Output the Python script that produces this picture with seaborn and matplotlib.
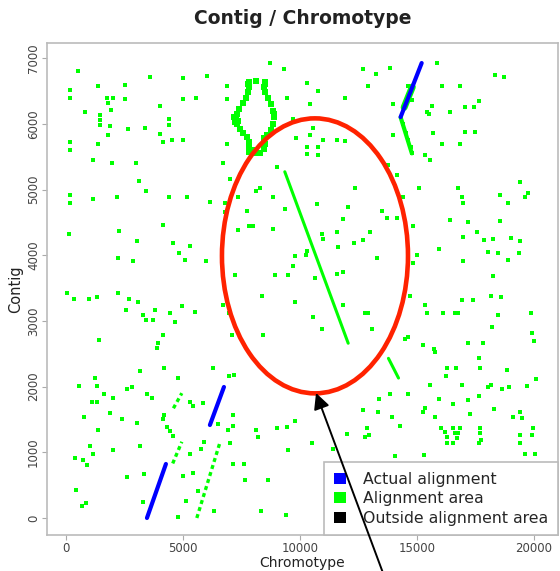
import matplotlib
matplotlib.use("Agg")
import matplotlib.pyplot as plt
from matplotlib.patches import Ellipse, Patch
import pandas as pd
import seaborn as sns

# scattered alignment-area hits: chromotype position / contig position
area_x = [
    500, 170, 170, 1350, 2520, 2520, 1740, 2000, 1810, 1920, 1450, 1450, 1450, 810, 170, 170,
    1350, 1170, 1950, 1880, 1810, 2670, 2990, 3140, 3420, 3590, 4990, 6010, 4990, 5560, 4020,
    4420, 4420, 4020, 4130, 4520, 4990, 3380, 170, 170, 1140, 2170, 4420, 5160, 6160, 6800,
    6870, 6870, 6870, 6730, 7010, 7370, 6800, 7720, 7370, 7800, 8010, 8860, 8120, 8270, 8860,
    9010, 140, 2280, 3050, 4590, 5300, 2240, 2850, 4850, 5090, 5990, 7230, 8940, 8720, 4130,
    9320, 10290, 10790, 9430, 10430, 11930, 12680, 13250, 13850, 12920, 13960, 15840, 16060,
    16840, 18340, 18720, 17630, 17450, 17060, 16390, 15630, 15420, 15530, 15670, 17060, 17480,
    16060, 16840, 15350, 15560, 9720, 10540, 9830, 10430, 11000, 11570, 11930, 10290, 10790,
    10290, 10790, 13960, 13780, 14130, 12350, 15100, 14390, 16770, 16910, 16980, 19410, 18550,
    19760, 19620, 18910, 10710, 9360, 12070, 13490, 13710, 14130, 11850, 14850, 16410, 17200,
    18550, 16960, 17550, 17880, 18240, 19020, 19410, 10930, 11000, 11570, 12990, 12310, 12710,
    11640, 9790, 9690, 9500, 10640, 11570, 11850, 13280, 14990, 15920, 16960, 18050, 18480,
    18880, 19380, 18240, 14850, 14390, 14530, 14630, 14730, 14780, 14780, 14630, 14500,
    30, 340, 1000, 1310, 2240, 2710, 3090, 2570, 3280, 3410, 3730, 3810, 4450, 4660, 4950,
    5520, 1430, 4130, 3950, 3880, 3160, 4200, 6270, 560, 1240, 1340, 2590, 2810, 4800, 1630,
    2020, 1100, 1310, 3450, 3660, 1880, 780, 2380, 3020, 1380, 5300, 5440, 5840, 3160, 2020,
    1030, 1140, 390, 740, 910, 2590, 3340, 430, 670, 860, 3280, 4770, 5130, 5020, 5420, 5630,
    5300, 5770, 5900, 6330, 7150, 7620, 7650, 7150, 7150, 6480, 8120, 8220, 8320, 8650, 9010,
    8440, 7110, 8370, 6730, 6980, 4300, 4450, 4590, 4160, 4200, 6940, 7010, 6980, 7180,
    9790, 10570, 10930, 11850, 12780, 12920, 13070, 14630, 14490, 14700, 15350, 15420, 16100,
    16630, 16770, 16910, 17380, 18150, 18590, 18450, 19860, 18200, 19910, 20010, 17200, 17810,
    15250, 15730, 15770, 17630, 16270, 16670, 17700, 18860, 16240, 16910, 18150, 18050, 18620,
    18950, 19690, 20090, 15560, 17630, 15920, 17200, 14630, 13850, 13390, 15350, 15270, 17270,
    15770, 16560, 19120, 19410, 19480, 18270, 13920, 14280, 13320, 12710, 12880, 12970, 12780,
    9790, 9430, 10500, 9500, 12000, 11430, 9390, 14060, 15300, 16020, 16200, 16270, 16270,
    16560, 16630, 16700, 16560, 16840, 16770, 17700, 17700, 17740, 17630, 19410, 19410, 19950,
    19910, 19620, 20050, 10260, 10300,
]
area_y = [
    6810, 6520, 6390, 6570, 6590, 6370, 6400, 6400, 6310, 6210, 6130, 6060, 5980, 6180, 5730, 5600,
    5690, 5450, 5400, 5960, 5830, 5920, 5410, 5130, 4970, 6720, 6700, 6730, 6370, 6390, 6270,
    6070, 5980, 5850, 5730, 5760, 5760, 5940, 4920, 4800, 4850, 4890, 4880, 4890, 4810, 4800,
    6570, 6380, 5690, 5410, 5160, 4890, 4660, 4680, 4390, 4450, 4450, 4400, 4980, 5020, 4890,
    5350, 4330, 4370, 4220, 4180, 4140, 3950, 3910, 4030, 3920, 3910, 3700, 3700, 6920, 4460,
    6830, 6620, 6500, 6400, 6300, 6390, 6840, 6760, 6850, 6570, 6300, 6920, 6570,
    6570, 6740, 6720, 6340, 6260, 6260, 6180, 6270, 6180, 6150, 5860, 5870, 5870,
    5690, 5690, 5530, 5450, 6080, 5940, 5780, 5830, 5760, 5750, 5740, 5650, 5650,
    5540, 5530, 5830, 5370, 5220, 5030, 5020, 4890, 5020, 4890, 4800, 5120, 4920,
    4940, 4890, 4800, 4780, 4700, 4740, 4670, 4560, 4560, 4550, 4450, 4530, 4500,
    4520, 4270, 4360, 4230, 4240, 4260, 4220, 4320, 4240, 4360, 4360, 4180, 4230,
    4120, 3990, 3830, 3700, 3660, 3710, 3750, 3950, 4000, 4100, 3910, 4050, 4040,
    3930, 4040, 3680, 3880, 6000, 5860, 5750, 5650, 5550, 6360, 6570, 6250,
    3420, 3340, 3340, 3370, 3430, 3330, 3290, 3160, 3090, 3010, 3010, 3160, 3120, 2980, 3220,
    3130, 2710, 2780, 2660, 2580, 2240, 2290, 2290, 2010, 2130, 2010, 1960, 1990, 2130, 1890,
    1820, 1770, 1760, 1880, 1820, 1600, 1530, 1510, 1450, 1340, 1770, 1710, 1750, 1100, 1040,
    1090, 980, 910, 880, 800, 630, 670, 420, 180, 230, 240, 20, 260, 640, 690, 410,
    980, 1050, 1160, 110, 820, 820, 580, 1570, 1400, 1430, 1340, 1240, 110, 580, 1370,
    2780, 2790, 3380, 3240, 3120, 1390, 1330, 1250, 1500, 1560, 1340, 1140, 2160, 2180,
    3290, 3060, 2880, 3240, 3120, 3120, 2880, 2760, 2730, 3380, 3240, 3120, 3120,
    3120, 3120, 3320, 3320, 3380, 3360, 3090, 3120, 2900, 2810, 2700, 2660, 2670,
    2630, 2570, 2530, 2440, 2290, 2290, 2290, 2260, 2160, 2030, 2030, 2000, 1960,
    2000, 2010, 2120, 2020, 1850, 1810, 1800, 1890, 1890, 1810, 1670, 1620, 1590,
    1540, 1730, 1540, 1620, 1520, 1660, 1530, 1400, 1620, 1640, 1370, 1260, 1240,
    1470, 1390, 1140, 1040, 1280, 1050, 50, 940, 960, 1370, 1310, 1240, 1140,
    1370, 1290, 1210, 1140, 1370, 1290, 1370, 1290, 1190, 1140, 1260, 1140, 1370,
    1260, 980, 980, 4000, 4060,
]

# ring-shaped cluster of hits near the top of the chart
loop_x = [7800, 7820, 7780, 7700, 7550, 7400, 7300, 7250, 7300, 7420, 7580, 7750, 7800, 7820,
          7800, 8500, 8480, 8500, 8620, 8760, 8850, 8880, 8850, 8750, 8600, 8450, 8500, 8450,
          8300, 8100, 7950, 7200, 7220, 8100, 7780, 8520, 7350, 8900]
loop_y = [6640, 6560, 6480, 6400, 6320, 6230, 6150, 6080, 6000, 5920, 5860, 5800, 5720, 5640,
          5570, 6640, 6560, 6480, 6400, 6300, 6200, 6100, 6000, 5900, 5830, 5780, 5700, 5620,
          5560, 5560, 5600, 6100, 6020, 6650, 6600, 6600, 6050, 6150]

# continuous alignment-area runs (start -> end)
run_x0 = [9350, 13780, 14300, 14450]
run_y0 = [5270, 2430, 6100, 6250]
run_x1 = [12060, 14210, 14780, 14800]
run_y1 = [2660, 2130, 5550, 6560]
run_w = [2.2, 2.2, 3.0, 5.0]

# broken (dotted) alignment-area runs
dot_x0 = [5590, 4560, 4590]
dot_y0 = [0, 830, 1670]
dot_x1 = [6580, 4950, 4950]
dot_y1 = [1150, 1160, 1900]

# actual alignments
actual_x0 = [3460, 6150, 14300]
actual_y0 = [0, 1415, 6103]
actual_x1 = [4270, 6750, 15200]
actual_y1 = [822, 1994, 6925]

x_ticks = [0, 5000, 10000, 15000, 20000]
y_ticks = [0, 1000, 2000, 3000, 4000, 5000, 6000, 7000]

legend_labels = ["Actual alignment", "Alignment area", "Outside alignment area"]
legend_colors = ["#0000ff", "#00ff00", "#000000"]

GREEN = "#00ff00"
BLUE = "#0000ff"


def segments(x0, y0, x1, y1):
    rows = []
    for i, (a, b, c, d) in enumerate(zip(x0, y0, x1, y1)):
        rows.append({"seg": i, "x": a, "y": b})
        rows.append({"seg": i, "x": c, "y": d})
    return pd.DataFrame(rows)


sns.set_style("white")
plt.rcParams["font.family"] = ["DejaVu Sans"]

fig = plt.figure(figsize=(5.6, 5.71), dpi=100)
ax = fig.add_axes([47 / 560, 1 - 535 / 571, (558 - 47) / 560, (535 - 43) / 571])

area = pd.DataFrame({"x": area_x, "y": area_y})
loop = pd.DataFrame({"x": loop_x, "y": loop_y})

sns.scatterplot(data=area, x="x", y="y", ax=ax, color=GREEN, marker="s", s=11,
                linewidth=0, legend=False, zorder=2)
sns.scatterplot(data=loop, x="x", y="y", ax=ax, color=GREEN, marker="s", s=15,
                linewidth=0, legend=False, zorder=2)

runs = segments(run_x0, run_y0, run_x1, run_y1)
for i, w in enumerate(run_w):
    sns.lineplot(data=runs[runs.seg == i], x="x", y="y", ax=ax, color=GREEN, lw=w,
                 estimator=None, sort=False, legend=False, zorder=2)

dots = segments(dot_x0, dot_y0, dot_x1, dot_y1)
for i in range(len(dot_x0)):
    sns.lineplot(data=dots[dots.seg == i], x="x", y="y", ax=ax, color=GREEN, lw=2.4,
                 linestyle=(0, (1.2, 1.0)), estimator=None, sort=False, legend=False, zorder=2)

actual = segments(actual_x0, actual_y0, actual_x1, actual_y1)
for i in range(len(actual_x0)):
    sns.lineplot(data=actual[actual.seg == i], x="x", y="y", ax=ax, color=BLUE, lw=3.0,
                 estimator=None, sort=False, legend=False, zorder=3)

ax.set_xlim(-812, 21026)
ax.set_ylim(-259, 7230)
ax.set_xticks(x_ticks)
ax.set_yticks(y_ticks)
ax.set_xticklabels([str(v) for v in x_ticks], fontsize=8.5, color="#444444")
ax.set_yticklabels([str(v) for v in y_ticks], fontsize=8.5, color="#444444",
                   rotation=90, va="center")
ax.tick_params(axis="both", which="major", length=3.5, width=0.8, color="#aaaaaa",
               direction="out", bottom=True, left=True, pad=1.5)
for sp in ax.spines.values():
    sp.set_color("#bbbbbb")
    sp.set_linewidth(1.2)

ax.set_xlabel("Chromotype", fontsize=10, color="#222222", labelpad=0.5)
ax.set_ylabel("Contig", fontsize=10.5, color="#222222", labelpad=3)
ax.set_title("Contig / Chromotype", fontsize=13.5, fontweight="bold", color="#222222", pad=14)

handles = [Patch(facecolor=c, edgecolor="none") for c in legend_colors]
leg = ax.legend(handles, legend_labels, loc="lower right", fontsize=11.3, frameon=True,
                fancybox=False, edgecolor="#bbbbbb", borderaxespad=0, handlelength=0.8,
                handleheight=0.7, handletextpad=1.1, labelspacing=0.28, borderpad=0.6,
                framealpha=1)
leg.get_frame().set_linewidth(1.2)
leg.set_zorder(5)

# highlighted region and pointer
ring = Ellipse((10640, 3990), 7950, 4186, fill=False, edgecolor="#ff2200", lw=3.3, zorder=6)
ax.add_patch(ring)
ax.annotate("", xy=(10685, 1903), xytext=(383, -2), textcoords="figure pixels",
            arrowprops=dict(arrowstyle="-|>", color="black", lw=1.4, mutation_scale=24,
                            shrinkA=0, shrinkB=0),
            annotation_clip=False, zorder=7)

fig.savefig("out.png", dpi=100)
